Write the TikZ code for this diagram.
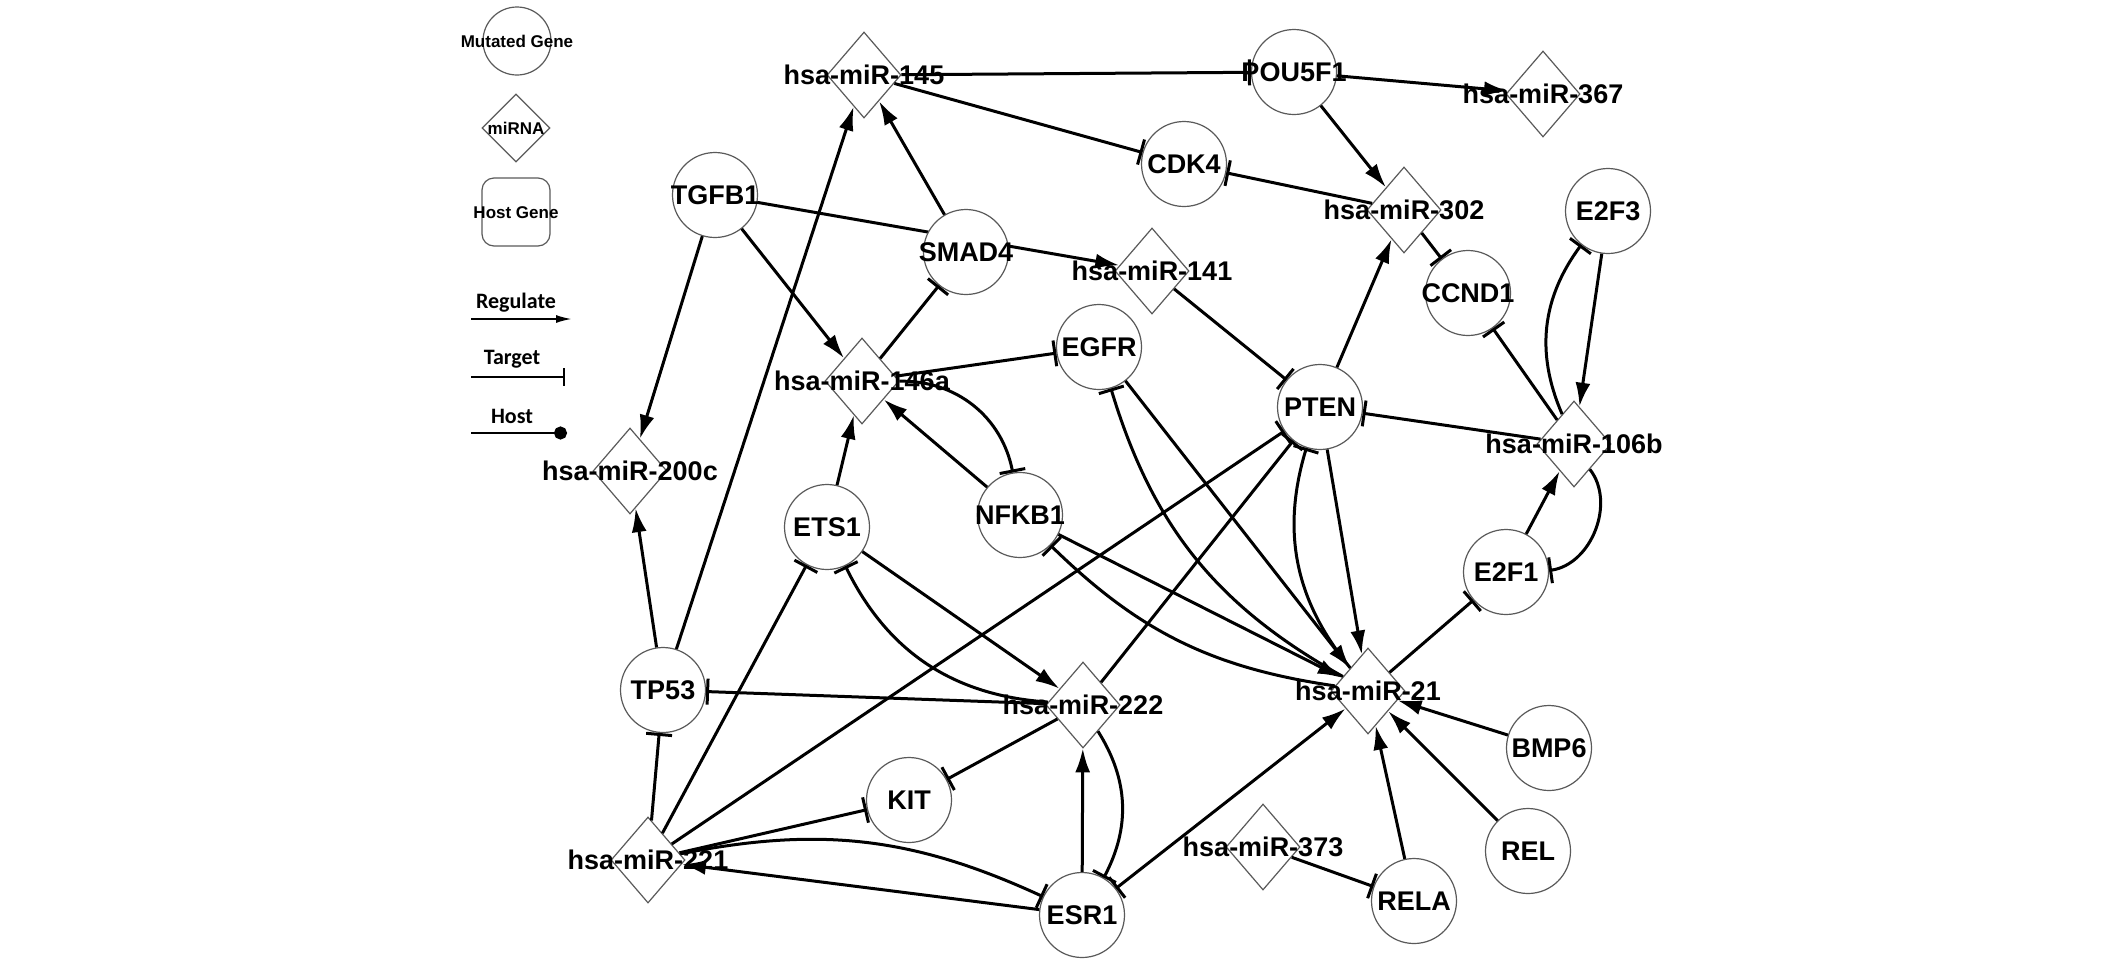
\documentclass[tikz,border=0pt]{standalone}
\usepackage{fontspec}
\setmainfont{Liberation Sans}
\newfontfamily\legfont{Carlito}
\usetikzlibrary{shapes.geometric,arrows.meta,backgrounds}
\definecolor{ncol}{RGB}{90,90,90}
\newcommand\lblsize{\fontsize{13.5pt}{16pt}\selectfont\bfseries}
\newcommand\legsize{\fontsize{8.5pt}{10pt}\selectfont\bfseries}
\newcommand\legtsize{\legfont\fontsize{11pt}{13pt}\selectfont\bfseries}
\begin{document}
\begin{tikzpicture}[x=0.5pt,y=-0.5pt,
  gene/.style={circle, draw=ncol, line width=0.6pt, fill=white, minimum size=42.5pt, inner sep=0pt},
  mir/.style={diamond, draw=ncol, line width=0.6pt, fill=white, minimum width=37pt, minimum height=43pt, inner sep=0pt},
  hostbox/.style={rectangle, rounded corners=6pt, draw=ncol, line width=0.6pt, fill=white, minimum size=34pt, inner sep=0pt},
  lbl/.style={font=\lblsize, inner sep=0pt, text height=9.7pt, text depth=0pt},
  leglbl/.style={font=\legsize, inner sep=0pt, text height=6.1pt, text depth=0pt},
  legtxt/.style={font=\legtsize, inner sep=0pt},
  reg/.style={line width=1.5pt, -{Latex[length=12pt,width=7.5pt]}},
  tgt/.style={line width=1.5pt, -{Bar[width=13pt]}},
  regtgt/.style={line width=1.5pt, {Bar[width=13pt]}-{Latex[length=12pt,width=7.5pt]}}
]
\useasboundingbox (0,0) rectangle (2126,970);

% ---------- legend ----------
\node[gene, minimum size=34pt] (lgene) at (517,41) {};
\node[mir, minimum width=34pt, minimum height=34pt] (lmir) at (516,128) {};
\node[hostbox] (lhost) at (516,212) {};
\node[leglbl] (lgenet) at (lgene) {Mutated Gene};
\node[leglbl] (lmirt) at (lmir) {miRNA};
\node[leglbl] (lhostt) at (lhost) {Host Gene};
\node[legtxt] (lreg) at (516,303) {Regulate};
\node[legtxt] (ltgt) at (512,359) {Target};
\node[legtxt] (lhst) at (512,416) {Host};
\coordinate (lrA) at (471,319); \coordinate (lrB) at (572,319);
\coordinate (ltA) at (471,377); \coordinate (ltB) at (565,377);
\coordinate (lhA) at (471,433); \coordinate (lhB) at (567,433);
\draw[line width=1pt, -{Latex[length=8pt,width=4pt]}] (lrA) -- (lrB);
\draw[line width=1pt, -{Bar[width=9pt]}] (ltA) -- (ltB);
\draw[line width=1.4pt, -{Circle[length=6.5pt]}] (lhA) -- (lhB);

% ---------- shapes ----------
\node[mir]  (m145)  at (864,75)  {};
\node[gene] (pou)   at (1294,72) {};
\node[mir]  (m367)  at (1543,94) {};
\node[gene] (cdk4)  at (1184,164) {};
\node[mir]  (m302)  at (1404,210) {};
\node[gene] (e2f3)  at (1608,211) {};
\node[gene] (ccnd1) at (1468,293) {};
\node[gene] (tgfb1) at (715,195) {};
\node[gene] (smad4) at (966,252) {};
\node[mir]  (m141)  at (1152,271) {};
\node[gene] (egfr)  at (1099,347) {};
\node[mir]  (m146a) at (862,381) {};
\node[gene] (pten)  at (1320,407) {};
\node[mir]  (m106b) at (1574,444) {};
\node[mir]  (m200c) at (630,471) {};
\node[gene] (ets1)  at (827,527) {};
\node[gene] (nfkb1) at (1020,515) {};
\node[gene] (e2f1)  at (1506,572) {};
\node[gene] (tp53)  at (663,690) {};
\node[mir]  (m222)  at (1083,705) {};
\node[mir]  (m21)   at (1368,691) {};
\node[gene] (bmp6)  at (1549,748) {};
\node[gene] (kit)   at (909,800) {};
\node[mir]  (m221)  at (648,860) {};
\node[mir]  (m373)  at (1263,847) {};
\node[gene] (rel)   at (1528,851) {};
\node[gene] (esr1)  at (1082,915) {};
\node[gene] (rela)  at (1414,901) {};

% ---------- labels ----------
\node[lbl] (t145)  at (m145)  {hsa-miR-145};
\node[lbl] (tpou)  at (pou)   {POU5F1};
\node[lbl] (t367)  at (m367)  {hsa-miR-367};
\node[lbl] (tcdk4) at (cdk4)  {CDK4};
\node[lbl] (t302)  at (m302)  {hsa-miR-302};
\node[lbl] (te2f3) at (e2f3)  {E2F3};
\node[lbl] (tccnd) at (ccnd1) {CCND1};
\node[lbl] (ttgfb) at (tgfb1) {TGFB1};
\node[lbl] (tsmad) at (smad4) {SMAD4};
\node[lbl] (t141)  at (m141)  {hsa-miR-141};
\node[lbl] (tegfr) at (egfr)  {EGFR};
\node[lbl] (t146a) at (m146a) {hsa-miR-146a};
\node[lbl] (tpten) at (pten)  {PTEN};
\node[lbl] (t106b) at (m106b) {hsa-miR-106b};
\node[lbl] (t200c) at (m200c) {hsa-miR-200c};
\node[lbl] (tets1) at (ets1)  {ETS1};
\node[lbl] (tnfkb) at (nfkb1) {NFKB1};
\node[lbl] (te2f1) at (e2f1)  {E2F1};
\node[lbl] (ttp53) at (tp53)  {TP53};
\node[lbl] (t222)  at (m222)  {hsa-miR-222};
\node[lbl] (t21)   at (m21)   {hsa-miR-21};
\node[lbl] (tbmp6) at (bmp6)  {BMP6};
\node[lbl] (tkit)  at (kit)   {KIT};
\node[lbl] (t221)  at (m221)  {hsa-miR-221};
\node[lbl] (t373)  at (m373)  {hsa-miR-373};
\node[lbl] (trel)  at (rel)   {REL};
\node[lbl] (tesr1) at (esr1)  {ESR1};
\node[lbl] (trela) at (rela)  {RELA};

% ---------- edge hidden behind SMAD4 ----------
\begin{scope}[on background layer]
  \fill[white] (0,0) rectangle (2126,970);
  \draw[reg] (tgfb1) -- (m141);
\end{scope}

% ---------- regulate edges ----------
\draw[reg] (pou) -- (m367);
\draw[reg] (pou) -- (m302);
\draw[reg] (pten) -- (m302);
\draw[reg] (smad4) -- (m145);
\draw[reg] (tp53) -- (m145);
\draw[reg] (tgfb1) -- (m200c);
\draw[reg] (tgfb1) -- (m146a);
\draw[reg] (ets1) -- (m146a);
\draw[reg] (nfkb1) -- (m146a);
\draw[reg] (e2f3) -- (m106b);
\draw[reg] (e2f1) -- (m106b);
\draw[reg] (pten) -- (m21);
\draw[reg] (egfr) -- (m21);
\draw[reg] (nfkb1) -- (m21);
\draw[reg] (ets1) -- (m222);
\draw[reg] (esr1) -- (m222);
\draw[reg] (esr1) -- (m221);
\draw[regtgt] (esr1) -- (m21);
\draw[reg] (rela) -- (m21);
\draw[reg] (rel) -- (m21);
\draw[reg] (bmp6) -- (m21);
\draw[reg] (tp53) -- (m200c);

% ---------- target edges ----------
\draw[tgt] (m145) -- (pou);
\draw[tgt] (m145) -- (cdk4);
\draw[tgt] (m302) -- (cdk4);
\draw[tgt] (m302) -- (ccnd1);
\draw[tgt] (m146a) -- (smad4);
\draw[tgt] (m146a) -- (egfr);
\draw[tgt] (m146a) to[bend left=40] (nfkb1);
\draw[tgt] (m141) -- (pten);
\draw[tgt] (m106b) -- (pten);
\draw[tgt] (m106b) -- (ccnd1);
\draw[tgt] (m106b) to[bend left=30] (e2f3);
\draw[tgt] (m106b) to[bend left=60] (e2f1);
\draw[tgt] (m21) -- (e2f1);
\draw[tgt] (m21) to[bend left=28] (pten);
\draw[tgt] (m21) to[bend left=22] (egfr);
\draw[tgt] (m21) to[bend left=18] (nfkb1);
\draw[tgt] (m222) to[bend left=30] (ets1);
\draw[tgt] (m222) to[bend left=30] (esr1);
\draw[tgt] (m221) to[bend left=18] (esr1);
\draw[tgt] (m221) -- (ets1);
\draw[tgt] (m221) -- (tp53);
\draw[tgt] (m221) -- (kit);
\draw[tgt] (m221) -- (pten);
\draw[tgt] (m222) -- (kit);
\draw[tgt] (m222) -- (tp53);
\draw[tgt] (m222) -- (pten);
\draw[tgt] (m373) -- (rela);
\end{tikzpicture}
\end{document}
